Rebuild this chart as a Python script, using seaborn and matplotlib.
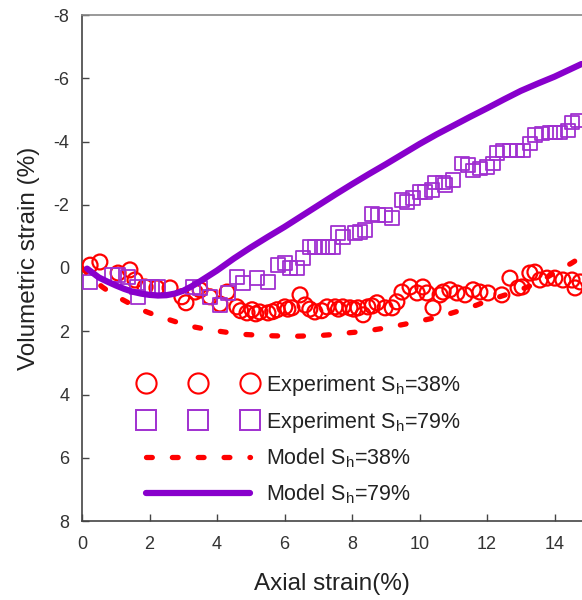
import numpy as np
import pandas as pd
import matplotlib
matplotlib.use("Agg")
import matplotlib.pyplot as plt
from matplotlib.lines import Line2D
import seaborn as sns

# ---------------- data ----------------
exp38_x = [0.24, 0.53, 1.07, 1.42, 1.57, 1.87, 2.22, 2.61, 2.96, 3.08, 3.35, 3.5, 3.79, 4.09,
           4.3, 4.59, 4.7, 4.89, 5.04, 5.15, 5.27, 5.51, 5.65, 5.78, 6.01, 6.1, 6.22, 6.46, 6.61,
           6.75, 6.9, 7.1, 7.26, 7.5, 7.6, 7.73, 7.94, 8.05, 8.18, 8.33, 8.47, 8.6, 8.74, 8.98,
           9.19, 9.33, 9.48, 9.72, 9.93, 10.1, 10.22, 10.4, 10.61, 10.7, 10.9, 11.11, 11.35,
           11.59, 11.79, 12.03, 12.44, 12.68, 12.92, 13.04, 13.27, 13.42, 13.57, 13.78, 14.01,
           14.25, 14.52, 14.61, 14.76]
exp38_y = [-0.09, -0.19, 0.16, 0.06, 0.38, 0.6, 0.63, 0.63, 0.91, 1.1, 0.76, 0.69, 0.91, 1.14,
           0.76, 1.23, 1.35, 1.42, 1.32, 1.45, 1.39, 1.42, 1.38, 1.32, 1.23, 1.3, 1.26, 0.85, 1.17,
           1.3, 1.39, 1.35, 1.23, 1.23, 1.3, 1.23, 1.26, 1.3, 1.26, 1.48, 1.23, 1.2, 1.1, 1.26,
           1.26, 1.07, 0.76, 0.6, 0.79, 0.6, 0.79, 1.26, 0.85, 0.76, 0.69, 0.79, 0.85,
           0.69, 0.76, 0.79, 0.85, 0.32, 0.63, 0.6, 0.16, 0.13, 0.38, 0.32, 0.32,
           0.38, 0.38, 0.63, 0.44]

exp79_x = [0.24, 0.89, 1.07, 1.36, 1.63, 1.66, 1.96, 2.07, 2.25, 3.29, 3.5, 3.8, 4.09, 4.33,
           4.59, 4.77, 5.19, 5.51, 5.81, 6.01, 6.16, 6.37, 6.55, 6.76, 6.9, 7.11, 7.29, 7.44,
           7.59, 7.73, 8.09, 8.24, 8.39, 8.59, 8.77, 8.98, 9.19, 9.48, 9.63, 9.81, 10.01, 10.16,
           10.37, 10.46, 10.7, 10.76, 10.99, 11.26, 11.44, 11.59, 11.79, 12.0, 12.18, 12.3,
           12.47, 12.68, 12.89, 13.07, 13.27, 13.42, 13.63, 13.87, 14.01, 14.16, 14.4, 14.52, 14.7]
exp79_y = [0.44, 0.22, 0.22, 0.28, 0.6, 0.91, 0.6, 0.6, 0.6, 0.6, 0.63, 0.91, 1.17, 0.79,
           0.28, 0.47, 0.32, 0.44, -0.09, -0.16, 0.0, 0.0, -0.32, -0.66, -0.66, -0.66, -0.66, -0.66,
           -1.1, -0.98, -1.1, -1.14, -1.2, -1.7, -1.67, -1.67, -1.58, -2.15, -2.08, -2.21, -2.4, -2.4,
           -2.46, -2.71, -2.71, -2.62, -2.78, -3.31, -3.25, -3.09, -3.15, -3.19, -3.31, -3.63,
           -3.72, -3.72, -3.72, -3.72, -3.94, -4.2, -4.26, -4.29, -4.29, -4.29, -4.35, -4.6, -4.67]

model38_x = [0, 0.3, 0.6, 0.9, 1.2, 1.55, 1.9, 2.25, 2.6, 2.95, 3.3, 3.65, 4.0, 4.4, 4.8, 5.15,
             5.5, 5.9, 6.25, 6.6, 7.0, 7.35, 7.7, 8.1, 8.5, 8.85, 9.2, 9.55, 9.9, 10.3, 10.7,
             11.0, 11.35, 11.7, 12.0, 12.4, 12.8, 13.15, 13.5, 13.8, 14.15, 14.5, 14.8]
model38_y = [0, 0.32, 0.6, 0.82, 1.0, 1.2, 1.38, 1.52, 1.64, 1.76, 1.86, 1.93, 1.99, 2.05, 2.1,
             2.12, 2.14, 2.15, 2.16, 2.15, 2.14, 2.11, 2.07, 2.03, 1.98, 1.92, 1.85, 1.78, 1.7,
             1.61, 1.51, 1.41, 1.3, 1.17, 1.04, 0.9, 0.76, 0.62, 0.47, 0.28, 0.06, -0.15, -0.35]

model79_x = [0.15, 0.3, 0.5, 0.75, 1, 1.25, 1.5, 1.75, 2, 2.25, 2.5, 2.75, 3, 3.25, 3.5, 3.75, 4,
             4.5, 5, 5.5, 6, 6.5, 7, 7.5, 8, 8.5, 9, 9.5, 10, 10.5, 11, 11.5, 12, 12.5, 13,
             13.5, 14, 14.4, 14.8]
model79_y = [0.02, 0.14, 0.3, 0.43, 0.55, 0.66, 0.75, 0.81, 0.85, 0.87, 0.86, 0.81, 0.72, 0.58,
             0.42, 0.25, 0.08, -0.3, -0.65, -0.98, -1.3, -1.64, -1.98, -2.32, -2.65, -2.97,
             -3.28, -3.6, -3.92, -4.22, -4.5, -4.78, -5.05, -5.33, -5.6, -5.83, -6.05, -6.25,
             -6.45]

x_ticks = [0, 2, 4, 6, 8, 10, 12, 14]
y_ticks = [-8, -6, -4, -2, 0, 2, 4, 6, 8]

labels = ["Experiment S$_\\mathrm{h}$=38%", "Experiment S$_\\mathrm{h}$=79%",
          "Model S$_\\mathrm{h}$=38%", "Model S$_\\mathrm{h}$=79%"]

# ---------------- style ----------------
sns.set_style("ticks")
plt.rcParams["font.family"] = ["Liberation Sans", "DejaVu Sans"]
plt.rcParams["mathtext.fontset"] = "custom"
plt.rcParams["mathtext.rm"] = "Liberation Sans"
plt.rcParams["mathtext.it"] = "Liberation Sans:italic"
plt.rcParams["axes.unicode_minus"] = False

RED = "#FF0000"
PURPLE_LINE = "#8800CC"
PURPLE_MK = "#A030D0"

fig = plt.figure(figsize=(5.82, 6.0), dpi=100)
ax = fig.add_axes([82 / 582, 79 / 600, 1 - 82 / 582, (521 - 15) / 600])

df38 = pd.DataFrame({"x": exp38_x, "y": exp38_y})
df79 = pd.DataFrame({"x": exp79_x, "y": exp79_y})
m38 = pd.DataFrame({"x": model38_x, "y": model38_y})
m79 = pd.DataFrame({"x": model79_x, "y": model79_y})

sns.scatterplot(data=df38, x="x", y="y", ax=ax, marker="o", s=115,
                facecolors="none", edgecolor=RED, linewidth=1.6, zorder=3)
sns.scatterplot(data=df79, x="x", y="y", ax=ax, marker="s", s=95,
                facecolors="none", edgecolor=PURPLE_MK, linewidth=1.3, zorder=3)

sns.lineplot(data=m38, x="x", y="y", ax=ax, sort=False, color=RED, linewidth=3.8, zorder=4)
ln38 = ax.lines[-1]
ln38.set_linestyle((0, (1.1, 3.8)))
ln38.set_dash_capstyle("round")
sns.lineplot(data=m79, x="x", y="y", ax=ax, sort=False, color=PURPLE_LINE, linewidth=4.5, zorder=5)

ax.set_xlim(0, (582 - 82) / 33.75)
ax.set_ylim(8, -8)
ax.set_xticks(x_ticks)
ax.set_yticks(y_ticks)
ax.tick_params(direction="in", length=5, width=1.0, colors="#444444", labelsize=13,
               labelcolor="#333333", pad=9)
ax.tick_params(axis="x", pad=11)
ax.set_xlabel("Axial strain(%)", fontsize=17.5, color="#222222", labelpad=14)
ax.set_ylabel("Volumetric strain (%)", fontsize=17.5, color="#222222")
ax.yaxis.set_label_coords(-0.083, 0.52)

ax.spines["right"].set_visible(False)
ax.spines["left"].set_color("#444444")
ax.spines["bottom"].set_color("#444444")
ax.spines["top"].set_color("#888888")
for s in ["left", "bottom", "top"]:
    ax.spines[s].set_linewidth(1.2)

handles = [
    Line2D([], [], linestyle="none", marker="o", markersize=14.5, markerfacecolor="none",
           markeredgecolor=RED, markeredgewidth=1.5),
    Line2D([], [], linestyle="none", marker="s", markersize=14.5, markerfacecolor="none",
           markeredgecolor=PURPLE_MK, markeredgewidth=1.4),
    Line2D([], [], color=RED, linewidth=3.8, linestyle=(0, (1.1, 3.8)),
           dash_capstyle="round"),
    Line2D([], [], color=PURPLE_LINE, linewidth=4.5, solid_capstyle="round"),
]
leg = ax.legend(handles, labels, loc="upper left",
                bbox_to_anchor=(140 / 582, 1 - 373 / 600), bbox_transform=fig.transFigure,
                frameon=False, fontsize=15.5, numpoints=3, handlelength=5.4,
                handletextpad=0.45, labelspacing=0.55, borderpad=0, borderaxespad=0)
for t in leg.get_texts():
    t.set_color("#222222")

fig.savefig("out.png", dpi=100)
